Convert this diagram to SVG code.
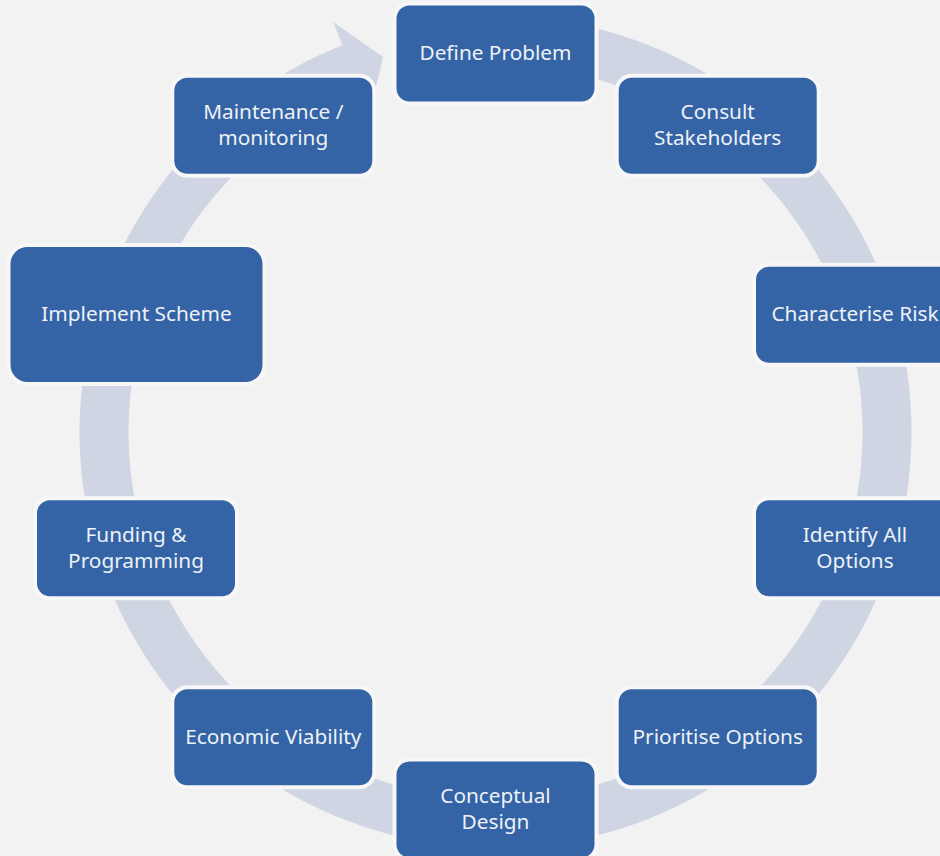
<svg xmlns="http://www.w3.org/2000/svg" width="940" height="856" viewBox="0 0 940 856">
  <style>
    .halo { fill: #f7f7f8; }
    .box { fill: #3464a5; }
    .lbl { font-family: "Noto Sans", "Open Sans", "Liberation Sans", sans-serif; font-size: 20.8px; fill: #eef1f7; text-anchor: middle; }
    .ring { fill: #cfd5e3; }
  </style>
  <rect x="0" y="0" width="940" height="856" fill="#f2f2f2"/>
  <g id="connectors">
    <path class="ring" d="M495.5,16 A416,416 0 1 1 342.4,45.2 L333.2,22 L383,57 L369.6,114 L360.4,90.8 A367,367 0 1 0 495.5,65 Z"/>
  </g>
  <g id="node-define-problem">
    <rect class="halo" x="392.5" y="1.5" width="206" height="104" rx="17"/>
    <rect class="box" x="396.5" y="5.5" width="198" height="96" rx="13"/>
    <text class="lbl" x="495.5" y="60">Define Problem</text>
  </g>
  <g id="node-consult-stakeholders">
    <rect class="halo" x="614.7" y="73.7" width="206" height="104" rx="17"/>
    <rect class="box" x="618.7" y="77.7" width="198" height="96" rx="13"/>
    <text class="lbl" x="717.7" y="119.4">Consult</text>
    <text class="lbl" x="717.7" y="145">Stakeholders</text>
  </g>
  <g id="node-characterise-risk">
    <rect class="halo" x="752" y="262.7" width="206" height="104" rx="17"/>
    <rect class="box" x="756" y="266.7" width="198" height="96" rx="13"/>
    <text class="lbl" x="855" y="321.2">Characterise Risk</text>
  </g>
  <g id="node-identify-all-options">
    <rect class="halo" x="752" y="496.3" width="206" height="104" rx="17"/>
    <rect class="box" x="756" y="500.3" width="198" height="96" rx="13"/>
    <text class="lbl" x="855" y="542">Identify All</text>
    <text class="lbl" x="855" y="567.6">Options</text>
  </g>
  <g id="node-prioritise-options">
    <rect class="halo" x="614.7" y="685.3" width="206" height="104" rx="17"/>
    <rect class="box" x="618.7" y="689.3" width="198" height="96" rx="13"/>
    <text class="lbl" x="717.7" y="743.8">Prioritise Options</text>
  </g>
  <g id="node-conceptual-design">
    <rect class="halo" x="392.5" y="757.5" width="206" height="104" rx="17"/>
    <rect class="box" x="396.5" y="761.5" width="198" height="96" rx="13"/>
    <text class="lbl" x="495.5" y="803.2">Conceptual</text>
    <text class="lbl" x="495.5" y="828.8">Design</text>
  </g>
  <g id="node-economic-viability">
    <rect class="halo" x="170.3" y="685.3" width="206" height="104" rx="17"/>
    <rect class="box" x="174.3" y="689.3" width="198" height="96" rx="13"/>
    <text class="lbl" x="273.3" y="743.8">Economic Viability</text>
  </g>
  <g id="node-funding-programming">
    <rect class="halo" x="33" y="496.3" width="206" height="104" rx="17"/>
    <rect class="box" x="37" y="500.3" width="198" height="96" rx="13"/>
    <text class="lbl" x="136" y="542">Funding &amp;</text>
    <text class="lbl" x="136" y="567.6">Programming</text>
  </g>
  <g id="node-implement-scheme">
    <rect class="halo" x="6.5" y="243" width="260" height="143" rx="21"/>
    <rect class="box" x="10.5" y="247" width="252" height="135" rx="17"/>
    <text class="lbl" x="136.5" y="321">Implement Scheme</text>
  </g>
  <g id="node-maintenance-monitoring">
    <rect class="halo" x="170.3" y="73.7" width="206" height="104" rx="17"/>
    <rect class="box" x="174.3" y="77.7" width="198" height="96" rx="13"/>
    <text class="lbl" x="273.3" y="119.4">Maintenance /</text>
    <text class="lbl" x="273.3" y="145">monitoring</text>
  </g>
</svg>
